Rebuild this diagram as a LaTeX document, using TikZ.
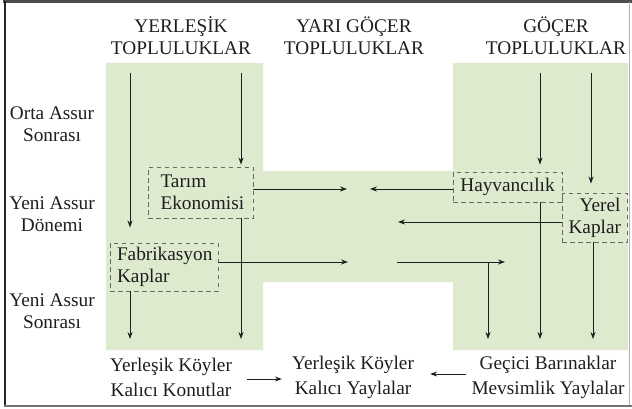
\documentclass[tikz,border=0pt]{standalone}
\usepackage{fontspec}
\setmainfont{Liberation Serif}
\usetikzlibrary{arrows.meta,calc}
\definecolor{bggreen}{RGB}{222,234,206}
\definecolor{ink}{RGB}{30,30,30}
\begin{document}
\begin{tikzpicture}[x=1pt,y=-1pt,
  txt/.style={inner sep=0pt, align=center, text=ink, font=\fontsize{19.3}{22}\selectfont},
  bottxt/.style={txt, font=\fontsize{19.3}{25}\selectfont},
  dbox/.style={draw=black!60, dash pattern=on 4.5pt off 3.5pt, line width=0.9pt, inner sep=0pt, text=ink, font=\fontsize{19.3}{22}\selectfont},
  arr/.style={draw=ink, line width=0.9pt, -{Stealth[length=7pt,width=5pt]}}]
\useasboundingbox (0,0) rectangle (632,409);
% green background
\fill[bggreen] (106,63) -- (263,63) -- (263,171) -- (453,171) -- (453,63) -- (628,63) -- (628,350) -- (453,350) -- (453,282) -- (263,282) -- (263,350) -- (106,350) -- cycle;
% frame
\draw[line width=2.5pt,black!70] (3,1.5) -- (632,1.5);
\draw[line width=2pt,black!85] (5,1) -- (5,406);
\draw[line width=2pt,black!55] (4,405.5) -- (632,405.5);
\draw[line width=0.8pt,black!30] (629,2) -- (629,405);
% headers
\node[txt] (h1) at (181,36) {YERLEŞİK\\TOPLULUKLAR};
\node[txt] (h2) at (354,36) {YARI GÖÇER\\TOPLULUKLAR};
\node[txt] (h3) at (556,36) {GÖÇER\\TOPLULUKLAR};
% period labels
\node[txt] (p1) at (52,124) {Orta Assur\\Sonrası};
\node[txt] (p2) at (52,214) {Yeni Assur\\Dönemi};
\node[txt] (p3) at (52,311) {Yeni Assur\\Sonrası};
% boxes
\node[dbox, minimum width=105pt, minimum height=51pt, text width=80pt, align=left] (tarim) at (200.5,192.5) {Tarım\\Ekonomisi};
\node[dbox, minimum width=108pt, minimum height=48pt, text width=94pt, align=left] (fab) at (164,267) {Fabrikasyon\\Kaplar};
\node[dbox, minimum width=109pt, minimum height=30pt, align=center] (hay) at (507.5,187) {Hayvancılık};
\node[dbox, minimum width=65pt, minimum height=49pt, text width=52pt, align=right] (yerel) at (594.5,217.5) {Yerel\\Kaplar};
% bottom texts
\node[bottxt] (bl) at (171,377) {Yerleşik Köyler\\Kalıcı Konutlar};
\node[bottxt] (bm) at (353,377) {Yerleşik Köyler\\Kalıcı Yaylalar};
\node[bottxt] (br) at (548,377) {Geçici Barınaklar\\Mevsimlik Yaylalar};
% coordinates
\coordinate (tA) at (130,73);
\coordinate (tB) at (241,73);
\coordinate (tC) at (540,73);
\coordinate (tD) at (591,73);
\coordinate (bA) at (130,339);
\coordinate (bB) at (241,339);
\coordinate (bE) at (488,339);
\coordinate (bC) at (540,339);
\coordinate (bD) at (593,339);
\coordinate (m1) at (347,189);
\coordinate (m2) at (370,189);
\coordinate (m3) at (398,222);
\coordinate (m4) at (348,262);
\coordinate (m5s) at (397,262);
\coordinate (m5e) at (505,262);
% arrows left column
\draw[arr, shorten >=15pt] (tA) -- (tA |- fab.north);
\draw[arr, shorten >=2pt] (tB) -- (tB |- tarim.north);
\draw[arr] (tarim.south -| tB) -- (bB);
\draw[arr] (fab.south -| tA) -- (bA);
% horizontal arrows
\draw[arr] ([yshift=3.5pt]tarim.east) -- (m1);
\draw[arr] ([yshift=-2pt]hay.west) -- (m2);
\draw[arr] ([yshift=-4.5pt]yerel.west) -- (m3);
\draw[arr] ([yshift=5pt]fab.east) -- (m4);
\draw[arr] (m5s) -- (m5e);
\draw[arr] (m5s -| bE) -- (bE);
% right column
\draw[arr, shorten >=7pt] (tC) -- (tC |- hay.north);
\draw[arr, shorten >=9pt] (tD) -- (tD |- yerel.north);
\draw[arr] (hay.south -| tC) -- (bC);
\draw[arr] (yerel.south -| bD) -- (bD);
% bottom arrows
\draw[arr] ([yshift=-2pt,xshift=15pt]bl.east) -- ([yshift=-2pt,xshift=-10pt]bm.west);
\draw[arr] ([yshift=3pt,xshift=-5pt]br.west) -- ([yshift=3pt,xshift=16pt]bm.east);
\end{tikzpicture}
\end{document}
